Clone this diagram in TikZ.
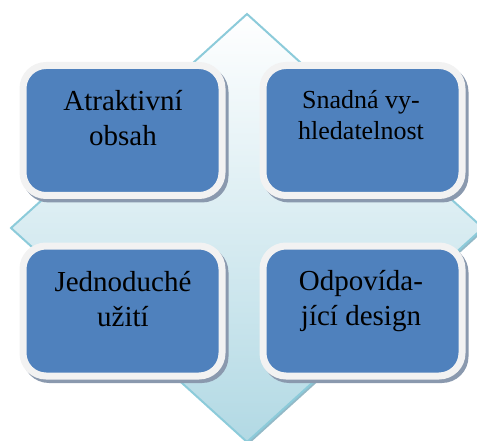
\documentclass[tikz,border=0pt]{standalone}
\usepackage{fontspec}
\setmainfont{Liberation Serif}
\newfontfamily\boxfont{Liberation Serif}
\usetikzlibrary{backgrounds}
\definecolor{boxblue}{HTML}{4F81BD}
\definecolor{framewhite}{HTML}{F2F2F2}
\definecolor{boxshadow}{HTML}{8A99AE}
\definecolor{diaedge}{HTML}{8CCBDA}
\definecolor{diashadow}{HTML}{93B9C7}
\definecolor{diatop}{HTML}{FFFFFF}
\definecolor{diabottom}{HTML}{B2D9E4}
\tikzset{
  boxnode/.style={rectangle, rounded corners=23pt, fill=boxblue, draw=framewhite,
    line width=7pt, minimum width=199pt, minimum height=130pt, inner sep=0pt},
  boxshade/.style={fill=boxshadow, rounded corners=26.5pt},
  txt/.style={align=center, text=black, inner sep=0pt, font=\boxfont\fontsize{29}{35}\selectfont},
  txtsmall/.style={align=center, text=black, inner sep=0pt, font=\boxfont\fontsize{26}{32}\selectfont},
}
\begin{document}
\begin{tikzpicture}[x=1pt,y=-1pt]
\useasboundingbox (0,0) rectangle (477,441);
% boxes
\node[boxnode] (b1) at (122.5,130.5) {};
\node[boxnode] (b2) at (362.5,130.5) {};
\node[boxnode] (b3) at (122.5,311) {};
\node[boxnode] (b4) at (362.5,311) {};
% texts
\node[txt, anchor=base] (t1) at (123,146) {Atraktivní\\obsah};
\node[txtsmall, anchor=base] (t2) at (361,140) {Snadná vy-\\hledatelnost};
\node[txt, anchor=base] (t3) at (123,326) {Jednoduché\\užití};
\node[txt, anchor=base] (t4) at (361,325) {Odpovída-\\jící design};
\begin{scope}[on background layer]
\clip (0,0) rectangle (477,441);
\coordinate (dT) at (247,14);
\coordinate (dL) at (11,228);
\coordinate (dR) at (483,228);
\coordinate (dB) at (247,442);
\fill[diashadow] ([shift={(2,2)}]dT) -- ([shift={(2,2)}]dR) -- ([shift={(2,2)}]dB) -- ([shift={(2,2)}]dL) -- cycle;
\shade[top color=diatop, bottom color=diabottom, draw=diaedge, line width=2pt]
  (dT) -- (dR) -- (dB) -- (dL) -- cycle;
\foreach \b in {b1,b2,b3,b4}{
  \fill[boxshade] ([shift={(3,3.5)}]\b.north west) rectangle ([shift={(3,3.5)}]\b.south east);
}
\end{scope}
\end{tikzpicture}
\end{document}
